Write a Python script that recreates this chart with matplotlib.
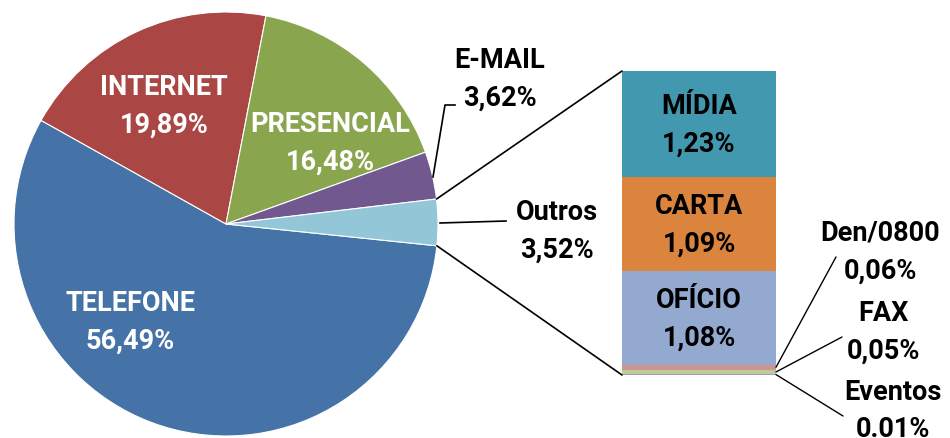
import matplotlib
matplotlib.use("Agg")
import matplotlib.pyplot as plt
import numpy as np
from matplotlib.patches import ConnectionPatch

plt.rcParams['font.family'] = ['Roboto', 'DejaVu Sans']

# Main pie data
pie_labels = ["TELEFONE", "INTERNET", "PRESENCIAL", "E-MAIL", "Outros"]
pie_values = [56.49, 19.89, 16.48, 3.62, 3.52]
pie_texts = ["56,49%", "19,89%", "16,48%", "3,62%", "3,52%"]
pie_colors = ["#4572A7", "#AA4643", "#89A54E", "#71588F", "#93C6D6"]

# Breakdown of "Outros" (top to bottom)
bar_labels = ["MÍDIA", "CARTA", "OFÍCIO", "Den/0800", "FAX", "Eventos"]
bar_values = [1.23, 1.09, 1.08, 0.06, 0.05, 0.01]
bar_texts = ["1,23%", "1,09%", "1,08%", "0,06%", "0,05%", "0.01%"]
bar_colors = ["#4198AF", "#DB843D", "#93A9CF", "#D19392", "#B9CD96", "#A99BBD"]

W, H = 950, 439
fig = plt.figure(figsize=(W / 100, H / 100), dpi=100)
ax = fig.add_axes([0, 0, 1, 1])

def py(y):
    return H - y

cx, cy, R = 226, py(225), 212
wedges, _ = ax.pie(pie_values, colors=pie_colors, startangle=-5.9, counterclock=False,
                   center=(cx, cy), radius=R,
                   wedgeprops=dict(edgecolor="white", linewidth=0.8))
ax.set_xlim(0, W)
ax.set_ylim(0, H)
ax.set_aspect("equal")
ax.axis("off")

fs = 19.5
bold = dict(fontsize=fs, fontweight="bold", ha="center", va="center", linespacing=1.52)

# Pie labels
pos = {"TELEFONE": (130, 322, "white"), "INTERNET": (164, 106, "white"),
       "PRESENCIAL": (330, 143, "white"), "E-MAIL": (500, 79, "black"),
       "Outros": (557, 231, "black")}
for lab, txt in zip(pie_labels, pie_texts):
    x, y, c = pos[lab]
    ax.text(x, py(y), f"{lab}\n{txt}", color=c, **bold)

# leader lines for pie
ax.plot([433, 445, 455], [py(178), py(106), py(106)], color="black", lw=1.2)
ax.plot([440, 506], [py(224), py(222)], color="black", lw=1.2)

# Title remnant (cut off at top)
ax.text(303, py(-8), "(", fontsize=20, fontweight="bold", ha="center", va="baseline")
ax.text(480, py(-8), ")", fontsize=20, fontweight="bold", ha="center", va="baseline")

# Bar of pie
bx0, by_top, bw, bh = 622, 72, 154, 304
bax = fig.add_axes([bx0 / W, py(by_top + bh) / H, bw / W, bh / H])
total = sum(bar_values)
bottoms = []
acc = total
for v in bar_values:
    acc -= v
    bottoms.append(acc)
bax.bar([0] * len(bar_values), bar_values, bottom=bottoms, width=1.0, color=bar_colors,
        edgecolor="none")
bax.set_xlim(-0.5, 0.5)
bax.set_ylim(0, total)
bax.axis("off")

for i in range(3):
    bax.text(0, bottoms[i] + bar_values[i] / 2, f"{bar_labels[i]}\n{bar_texts[i]}",
             color="black", **bold)

# small categories labels
small_pos = [(880, 252, 836, 258), (883, 332, 842, 338), (893, 411, 843, 417)]
for k, i in enumerate(range(3, 6)):
    x, y, lx, ly = small_pos[k]
    ax.text(x, py(y), f"{bar_labels[i]}\n{bar_texts[i]}", color="black", **bold)
    yy = bottoms[i] + bar_values[i] / 2
    con = ConnectionPatch(xyA=(0.5, yy), coordsA=bax.transData,
                          xyB=(lx, py(ly)), coordsB=ax.transData,
                          color="black", lw=1.0)
    fig.add_artist(con)

# connectors from Outros wedge to bar
w = wedges[-1]
for ang, yb in [(w.theta2, total), (w.theta1, 0)]:
    a = np.deg2rad(ang)
    px, pyy = cx + R * np.cos(a), cy + R * np.sin(a)
    con = ConnectionPatch(xyA=(px, pyy), coordsA=ax.transData,
                          xyB=(-0.5, yb), coordsB=bax.transData,
                          color="black", lw=1.2)
    fig.add_artist(con)

fig.savefig("out.png", dpi=100)
